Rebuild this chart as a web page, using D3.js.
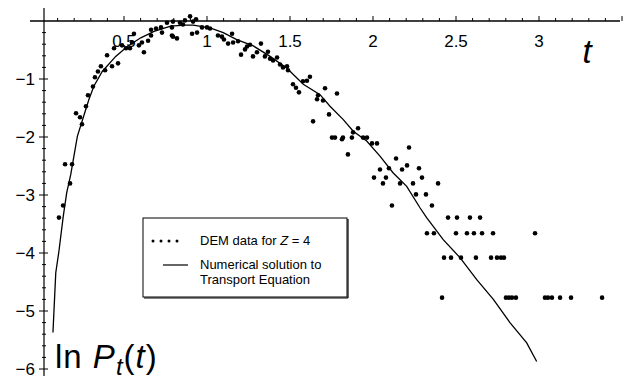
<!DOCTYPE html>
<html><head><meta charset="utf-8">
<script src="https://cdn.jsdelivr.net/npm/d3@7"></script>
<style>html,body{margin:0;padding:0;background:#fff;}svg{display:block;}</style>
</head><body>
<svg id="c" width="624" height="380"></svg>
<script>
// ---- data ----
const xTickValues = [0.5, 1, 1.5, 2, 2.5, 3];
const xTickLabels = ["0.5", "1", "1.5", "2", "2.5", "3"];
const yTickValues = [-1, -2, -3, -4, -5, -6];
const yTickLabels = ["\u22121", "\u22122", "\u22123", "\u22124", "\u22125", "\u22126"];

const demT = [0.108,0.133,0.175,0.145,0.187,0.211,0.235,0.247,0.271,0.283,0.313,0.325,0.343,0.361,0.386,0.398,0.428,0.464,0.440,0.488,
0.512,0.536,0.548,0.560,0.590,0.620,0.608,0.645,0.663,0.663,0.693,0.723,0.729,0.759,0.789,0.789,0.795,0.837,0.855,0.867,
0.898,0.916,0.934,0.795,0.819,0.910,0.940,0.970,1.000,1.018,1.066,1.090,1.102,1.127,1.151,1.157,1.187,1.205,1.229,1.241,
1.259,1.277,1.301,1.325,1.349,1.367,1.380,1.398,1.422,1.440,1.458,1.482,1.488,1.518,1.536,1.554,1.578,1.602,1.620,1.663,
1.669,1.711,1.783,1.699,1.639,1.735,1.753,1.771,1.813,1.819,1.880,1.910,1.873,1.940,1.964,1.994,2.024,1.849,2.139,2.217,
2.042,2.096,2.175,2.205,2.277,2.006,2.078,2.060,2.163,2.241,2.295,2.392,2.259,2.319,2.114,2.355,2.452,2.506,2.584,2.645,
2.325,2.367,2.500,2.566,2.608,2.657,2.723,2.976,2.428,2.470,2.530,2.620,2.711,2.747,2.771,2.789,2.416,2.801,2.819,2.837,
2.861,3.036,3.054,3.078,3.127,3.193,3.380];
const demLnP = [-3.39,-3.18,-2.80,-2.47,-2.47,-1.59,-1.66,-1.78,-1.47,-1.28,-1.13,-0.97,-0.87,-0.78,-0.85,-0.59,-0.78,-0.73,-0.47,-0.42,
-0.47,-0.47,-0.37,-0.22,-0.42,-0.54,-0.37,-0.34,-0.25,-0.15,-0.13,-0.11,-0.20,-0.03,-0.11,-0.25,-0.01,-0.03,-0.06,0.01,
0.08,-0.01,0.03,-0.27,-0.30,-0.22,-0.20,-0.11,-0.11,-0.13,-0.25,-0.27,-0.32,-0.39,-0.22,-0.37,-0.35,-0.58,-0.49,-0.44,
-0.41,-0.61,-0.54,-0.39,-0.61,-0.53,-0.65,-0.68,-0.63,-0.75,-0.80,-0.78,-0.85,-1.09,-1.15,-1.23,-1.04,-1.03,-0.96,-1.35,
-1.28,-1.16,-1.25,-1.37,-1.73,-1.61,-2.01,-2.01,-2.04,-2.01,-1.92,-1.85,-2.01,-2.01,-2.01,-2.11,-2.11,-2.30,-2.37,-2.18,
-2.56,-2.54,-2.56,-2.49,-2.54,-2.70,-2.70,-2.80,-2.80,-2.80,-2.70,-2.80,-2.99,-2.99,-3.18,-3.18,-3.39,-3.39,-3.39,-3.39,
-3.66,-3.66,-3.66,-3.66,-3.66,-3.66,-3.66,-3.66,-4.08,-4.08,-4.08,-4.08,-4.08,-4.08,-4.08,-4.08,-4.77,-4.77,-4.77,-4.77,
-4.77,-4.77,-4.77,-4.77,-4.77,-4.77,-4.77];

const curveT = [0.072,0.089,0.108,0.134,0.155,0.179,0.219,0.255,0.289,0.319,0.369,0.450,0.520,0.601,0.681,0.781,0.867,0.917,1.018,1.098,
1.179,1.279,1.380,1.480,1.580,1.681,1.741,1.821,1.881,1.962,2.042,2.122,2.203,2.283,2.323,2.423,2.524,2.625,2.725,2.825,2.926,2.986];
const curveLnP = [-5.37,-4.34,-3.97,-3.37,-2.96,-2.65,-1.99,-1.66,-1.35,-1.12,-0.87,-0.61,-0.44,-0.29,-0.18,-0.09,-0.07,-0.07,-0.12,-0.20,
-0.32,-0.43,-0.61,-0.81,-1.09,-1.27,-1.47,-1.70,-1.90,-2.07,-2.33,-2.62,-2.85,-3.22,-3.39,-3.77,-4.08,-4.46,-4.80,-5.20,-5.55,-5.87];

// ---- drawing ----
const svg = d3.select("#c");
const font = "'Liberation Sans', Arial, Helvetica, sans-serif";
const x = d3.scaleLinear().domain([0, 3.5]).range([41, 41 + 3.5 * 166]);
const y = d3.scaleLinear().domain([0, -6]).range([21, 369]);
const axisX = 44, axisY = y(0);

// axes lines
svg.append("line").attr("x1", 30).attr("x2", 620).attr("y1", axisY).attr("y2", axisY)
  .attr("stroke", "#000").attr("stroke-width", 1.3);
svg.append("line").attr("x1", axisX).attr("x2", axisX).attr("y1", 8).attr("y2", 376)
  .attr("stroke", "#000").attr("stroke-width", 1.2);

// x ticks (minor every 0.1)
const xMinor = d3.range(1, 36).map(i => i / 10);
svg.append("g").selectAll("line").data(xMinor).join("line")
  .attr("x1", d => x(d)).attr("x2", d => x(d))
  .attr("y1", axisY).attr("y2", d => Math.abs(d * 2 - Math.round(d * 2)) < 1e-6 ? axisY - 5 : axisY - 3)
  .attr("stroke", "#000").attr("stroke-width", 1);
svg.append("g").selectAll("text").data(xTickValues).join("text")
  .attr("x", d => x(d)).attr("y", 47).attr("text-anchor", "middle")
  .attr("font-family", font).attr("font-size", 17)
  .text((d, i) => xTickLabels[i]);

// y ticks
const yMinor = d3.range(1, 32).map(i => -i / 5);
svg.append("g").selectAll("line").data(yMinor).join("line")
  .attr("x1", d => Math.abs(d - Math.round(d)) < 1e-6 ? axisX - 5 : axisX - 2)
  .attr("x2", d => Math.abs(d - Math.round(d)) < 1e-6 ? axisX + 4 : axisX + 2)
  .attr("y1", d => y(d)).attr("y2", d => y(d))
  .attr("stroke", "#000").attr("stroke-width", 1);
svg.append("g").selectAll("text").data(yTickValues).join("text")
  .attr("x", 35).attr("y", d => y(d) + 6).attr("text-anchor", "end")
  .attr("font-family", font).attr("font-size", 17)
  .text((d, i) => yTickLabels[i]);

// curve
const line = d3.line().x((d, i) => x(curveT[i])).y((d, i) => y(curveLnP[i]));
svg.append("path").attr("d", line(curveT)).attr("fill", "none")
  .attr("stroke", "#000").attr("stroke-width", 1.3);

// dots
svg.append("g").selectAll("circle").data(demT).join("circle")
  .attr("cx", (d, i) => x(d)).attr("cy", (d, i) => y(demLnP[i])).attr("r", 2.3).attr("fill", "#000");

// axis labels
svg.append("text").attr("x", 587).attr("y", 63).attr("text-anchor", "middle")
  .attr("font-family", font).attr("font-style", "italic").attr("font-size", 33).text("t");
const lab = svg.append("text").attr("x", 55).attr("y", 368)
  .attr("font-family", font).attr("font-size", 33).attr("letter-spacing", 1);
lab.append("tspan").text("ln ");
lab.append("tspan").attr("font-style", "italic").text("P");
lab.append("tspan").attr("font-style", "italic").attr("font-size", 24).attr("dy", 7).text("t");
lab.append("tspan").attr("dy", -7).text("(");
lab.append("tspan").attr("font-style", "italic").text("t");
lab.append("tspan").text(")");

// legend
const lg = svg.append("g");
lg.append("rect").attr("x", 143).attr("y", 218).attr("width", 204).attr("height", 79)
  .attr("fill", "#fff").attr("stroke", "#000").attr("stroke-width", 1);
lg.append("line").attr("x1", 144).attr("x2", 348).attr("y1", 298).attr("y2", 298).attr("stroke", "#000").attr("stroke-width", 1.2);
lg.append("line").attr("x1", 348).attr("x2", 348).attr("y1", 219).attr("y2", 298).attr("stroke", "#000").attr("stroke-width", 1.2);
lg.append("g").selectAll("circle").data([0, 1, 2, 3]).join("circle")
  .attr("cx", d => 153 + d * 8).attr("cy", 241).attr("r", 1.5).attr("fill", "#000");
lg.append("line").attr("x1", 163).attr("x2", 188).attr("y1", 265).attr("y2", 265)
  .attr("stroke", "#000").attr("stroke-width", 1.2);
const t1 = lg.append("text").attr("x", 200).attr("y", 245).attr("font-family", font).attr("font-size", 13);
t1.append("tspan").text("DEM data for ");
t1.append("tspan").attr("font-style", "italic").text("Z");
t1.append("tspan").text(" = 4");
lg.append("text").attr("x", 200).attr("y", 269).attr("font-family", font).attr("font-size", 13).text("Numerical solution to");
lg.append("text").attr("x", 200).attr("y", 284).attr("font-family", font).attr("font-size", 13).text("Transport Equation");
</script>
</body></html>
